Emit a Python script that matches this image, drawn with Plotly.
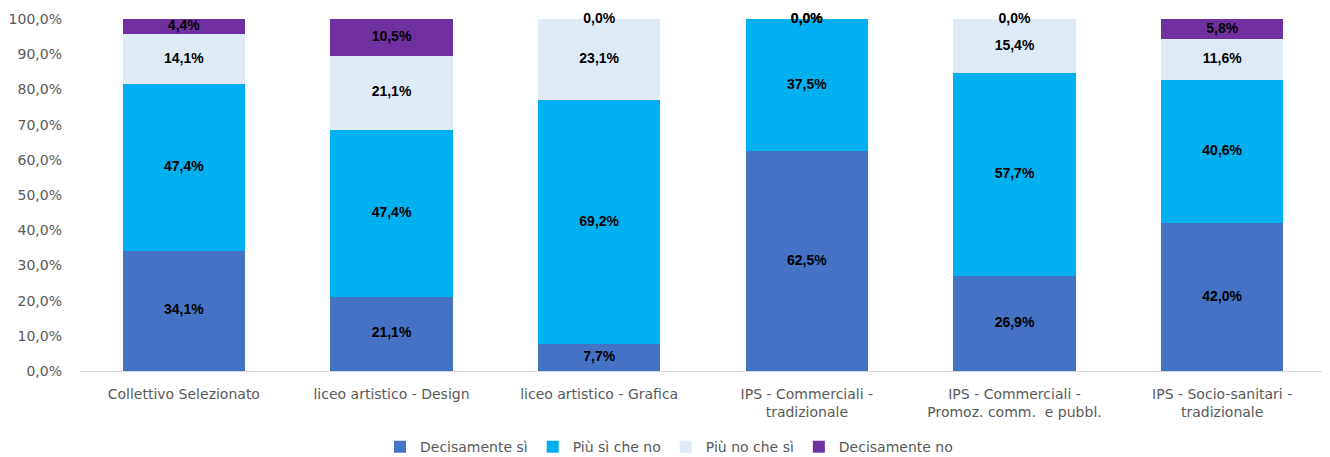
import plotly.graph_objects as go
import numpy as np

categories = [
    "Collettivo Selezionato",
    "liceo artistico - Design",
    "liceo artistico - Grafica",
    "IPS - Commerciali -<br>tradizionale",
    "IPS - Commerciali -<br>Promoz. comm.  e pubbl.",
    "IPS - Socio-sanitari -<br>tradizionale",
]

series_names = ["Decisamente sì", "Più sì che no", "Più no che sì", "Decisamente no"]
decisamente_si = [34.1, 21.1, 7.7, 62.5, 26.9, 42.0]
piu_si_che_no = [47.4, 47.4, 69.2, 37.5, 57.7, 40.6]
piu_no_che_si = [14.1, 21.1, 23.1, 0.0, 15.4, 11.6]
decisamente_no = [4.4, 10.5, 0.0, 0.0, 0.0, 5.8]

colors = ["#4472C4", "#00B0F0", "#DEEBF7", "#7030A0"]
series = [decisamente_si, piu_si_che_no, piu_no_che_si, decisamente_no]

fig = go.Figure()

for name, vals, col in zip(series_names, series, colors):
    fig.add_trace(go.Bar(
        x=categories,
        y=vals,
        name=name,
        marker=dict(color=col, line=dict(width=0)),
        hovertemplate="%{x}: %{y:.1f}%<extra>" + name + "</extra>",
    ))

# data labels centred on each segment
base = np.zeros(len(categories))
for vals in series:
    v = np.array(vals)
    mid = base + v / 2
    fig.add_trace(go.Scatter(
        x=categories,
        y=mid,
        mode="text",
        text=[f"{x:.1f}%".replace(".", ",") for x in v],
        textfont=dict(family="Liberation Sans, Arial", size=14, color="#000000", weight="bold"),
        showlegend=False,
        hoverinfo="skip",
        cliponaxis=False,
    ))
    base = base + v

# the page body adds an 8px offset, so the figure is trimmed to compensate
fig.update_layout(
    barmode="stack",
    bargap=0.41,
    separators=",.",
    width=1322,
    height=449,
    margin=dict(l=72, r=4, t=11, b=86),
    plot_bgcolor="white",
    paper_bgcolor="white",
    font=dict(family="DejaVu Sans", size=14, color="#595959"),
    xaxis=dict(
        showline=True,
        linecolor="#D9D9D9",
        linewidth=1,
        ticks="",
        ticklabelstandoff=10,
        automargin=False,
        tickfont=dict(size=14, color="#595959"),
    ),
    yaxis=dict(
        range=[0, 100],
        dtick=10,
        tickformat=".1f",
        ticksuffix="%",
        showgrid=False,
        zeroline=False,
        ticks="",
        ticklabelstandoff=17,
        automargin=False,
        tickfont=dict(size=14, color="#595959"),
    ),
    legend=dict(
        orientation="h",
        xref="container",
        yref="container",
        x=0.5,
        xanchor="center",
        y=0.022,
        yanchor="middle",
        font=dict(size=14, color="#595959"),
        itemwidth=30,
        traceorder="normal",
    ),
)

fig.write_html("out.html")
